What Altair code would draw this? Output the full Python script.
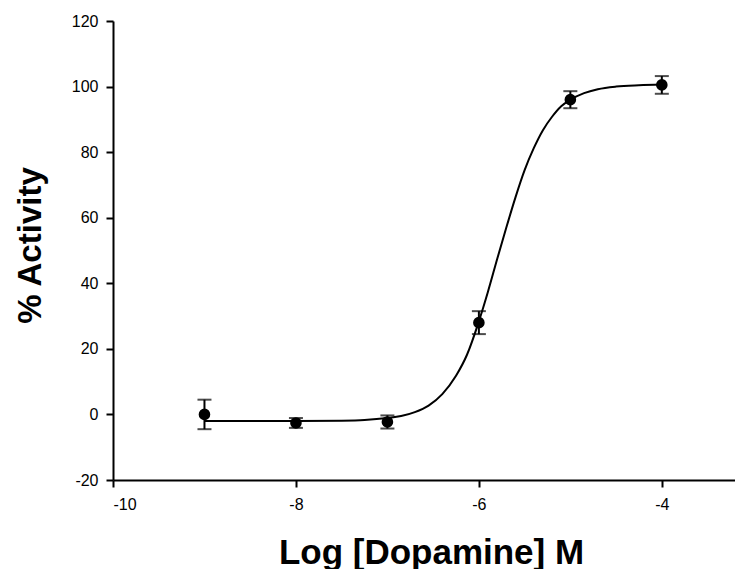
import altair as alt
import pandas as pd

# measured data points
log_dose = [-9, -8, -7, -6, -5, -4]
activity = [0.0, -2.6, -2.3, 28.0, 96.0, 100.5]
sem = [4.5, 1.5, 2.0, 3.5, 2.6, 2.7]

# fitted curve
curve_x = [-9.0, -8.5, -8.0, -7.5, -7.25, -7.0, -6.85, -6.7, -6.55, -6.4,
           -6.25, -6.13, -6.0, -5.9, -5.8, -5.7, -5.6, -5.5, -5.4, -5.3,
           -5.2, -5.1, -5.0, -4.85, -4.7, -4.5, -4.25, -4.0]
curve_y = [-2.0, -2.0, -2.0, -1.9, -1.7, -1.1, -0.5, 0.7, 2.7, 6.2,
           11.8, 18.2, 28.4, 37.5, 47.4, 57.0, 66.2, 74.5, 81.2, 86.7,
           90.8, 94.0, 96.0, 98.0, 99.2, 100.0, 100.4, 100.6]

x_ticks = [-10, -8, -6, -4]
y_ticks = [-20, 0, 20, 40, 60, 80, 100, 120]

pts = pd.DataFrame({"x": log_dose, "y": activity, "e": sem})
pts["lo"] = pts["y"] - pts["e"]
pts["hi"] = pts["y"] + pts["e"]
curve = pd.DataFrame({"x": curve_x, "y": curve_y})

FONT = "Liberation Sans"

xscale = alt.Scale(domain=[-10, -3.2], nice=False, zero=False)
yscale = alt.Scale(domain=[-20, 120], nice=False, zero=False)

xaxis = alt.Axis(values=x_ticks, title="Log [Dopamine] M", grid=False,
                 labelExpr="toString(datum.value)",
                 domainColor="black", domainWidth=2, tickColor="black", tickWidth=2,
                 tickSize=7, labelFont=FONT, labelFontSize=16, labelColor="black",
                 labelPadding=9, titleFont=FONT, titleFontSize=35, titleFontWeight="bold",
                 titleColor="black", titleX=318, titleY=83, titleAlign="center",
                 titleBaseline="alphabetic")
yaxis = alt.Axis(values=y_ticks, title="% Activity", grid=False,
                 labelExpr="toString(datum.value)",
                 domainColor="black", domainWidth=2, tickColor="black", tickWidth=2,
                 tickSize=7, labelFont=FONT, labelFontSize=16, labelColor="black",
                 labelPadding=8, titleFont=FONT, titleFontSize=33, titleFontWeight="bold",
                 titleColor="black", titleX=-73, titleY=224, titleAlign="center",
                 titleBaseline="alphabetic", titleAngle=-90)

line = alt.Chart(curve).mark_line(color="black", strokeWidth=2, interpolate="monotone").encode(
    x=alt.X("x:Q", scale=xscale, axis=xaxis),
    y=alt.Y("y:Q", scale=yscale, axis=yaxis),
)
bars = alt.Chart(pts).mark_rule(color="black", strokeWidth=2).encode(
    x="x:Q", y="lo:Q", y2="hi:Q"
)
cap_lo = alt.Chart(pts).mark_tick(color="black", thickness=2, size=14, orient="horizontal").encode(
    x="x:Q", y="lo:Q"
)
cap_hi = alt.Chart(pts).mark_tick(color="black", thickness=2, size=14, orient="horizontal").encode(
    x="x:Q", y="hi:Q"
)
dots = alt.Chart(pts).mark_circle(color="black", opacity=1, size=135).encode(
    x="x:Q", y="y:Q"
)

chart = alt.layer(line, bars, cap_lo, cap_hi, dots).properties(
    width=622, height=459,
    autosize=alt.AutoSizeParams(type="none"),
    padding={"left": 105, "top": 13, "right": 0, "bottom": 89},
    background="white",
).configure_view(stroke=None)

chart.save("out.html", embed_options={"renderer": "svg", "actions": False})
